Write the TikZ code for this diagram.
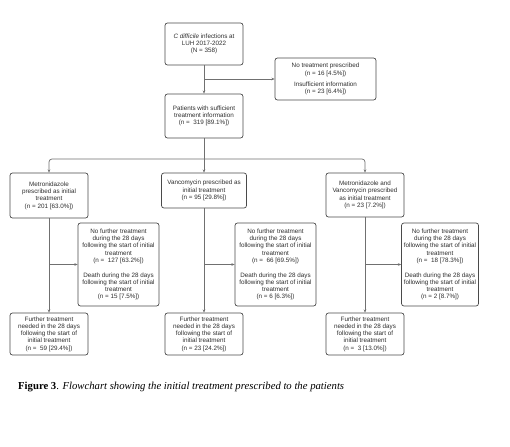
\documentclass[tikz,border=0pt]{standalone}
\usepackage{fontspec}
\setmainfont{Liberation Serif}
\newfontfamily\boxfont{Liberation Sans}
\usetikzlibrary{arrows.meta}
\definecolor{boxline}{HTML}{4A4A4A}
\definecolor{conn}{HTML}{707070}
\definecolor{boxtext}{HTML}{2E2E2E}
\tikzset{
  fbox/.style={draw=boxline, line width=0.7pt, rounded corners=2.5pt, fill=white,
    align=center, inner sep=1pt, text=boxtext,
    font=\boxfont\fontsize{6.3}{7.3}\selectfont},
  conline/.style={draw=conn, line width=0.7pt},
  arr/.style={conline, -{Stealth[length=3.2pt,width=2.6pt]}}
}
\begin{document}
\begin{tikzpicture}[x=1pt,y=-1pt]
\useasboundingbox (0,0) rectangle (510,446);
\fill[white] (0,0) rectangle (510,446);

\node[fbox, minimum width=78, minimum height=42] (top) at (204,44)
  {\textit{C difficile} infections at\\LUH 2017-2022\\(N = 358)};
\node[fbox, minimum width=101, minimum height=42] (side) at (325.5,79)
  {No treatment prescribed\\(n = 16 [4.5\%])\\[3.5pt]Insufficient information\\(n = 23 [6.4\%])};
\node[fbox, minimum width=78, minimum height=44] (pat) at (204,116)
  {Patients with sufficient\\treatment information\\(n = \ 319 [89.1\%])};

\node[fbox, minimum width=78, minimum height=45] (met) at (49,195.5)
  {Metronidazole\\prescribed as initial\\treatment\\(n = 201 [63.0\%])};
\node[fbox, minimum width=85, minimum height=35] (van) at (204,190.5)
  {Vancomycin prescribed as\\initial treatment\\(n = 95 [29.8\%])};
\node[fbox, minimum width=78, minimum height=44] (comb) at (365,195)
  {Metronidazole and\\Vancomycin prescribed\\as initial treatment\\(n = 23 [7.2\%])};

\node[fbox, minimum width=81, minimum height=83] (nf1) at (118.5,264.5)
  {No further treatment\\during the 28 days\\following the start of initial\\treatment\\(n = \ 127 [63.2\%])\\[7.3pt]Death during the 28 days\\following the start of initial\\treatment\\(n = 15 [7.5\%])};
\node[fbox, minimum width=81, minimum height=83] (nf2) at (275.5,264.5)
  {No further treatment\\during the 28 days\\following the start of initial\\treatment\\(n = \ 66 [69.5\%])\\[7.3pt]Death during the 28 days\\following the start of initial\\treatment\\(n = 6 [6.3\%])};
\node[fbox, minimum width=77, minimum height=83] (nf3) at (440,264.5)
  {No further treatment\\during the 28 days\\following the start of initial\\treatment\\(n = \ 18 [78.3\%])\\[7.3pt]Death during the 28 days\\following the start of initial\\treatment\\(n = 2 [8.7\%])};

\node[fbox, minimum width=78, minimum height=42] (fb1) at (49,334)
  {Further treatment\\needed in the 28 days\\following the start of\\initial treatment\\(n = \ 59 [29.4\%])};
\node[fbox, minimum width=78, minimum height=42] (fb2) at (204,334)
  {Further treatment\\needed in the 28 days\\following the start of\\initial treatment\\(n = 23 [24.2\%])};
\node[fbox, minimum width=78, minimum height=42] (fb3) at (365,334)
  {Further treatment\\needed in the 28 days\\following the start of\\initial treatment\\(n = \ 3 [13.0\%])};

% connectors
\draw[arr] (top.south) -- (pat.north);
\draw[arr] (top.south |- side.west) -- (side.west);
\coordinate (bus) at (204,159);
\draw[conline] (pat.south) -- (bus);
\draw[arr] (bus) -- (van.north);
\draw[arr, rounded corners=3pt] (bus) -| (met.north);
\draw[arr, rounded corners=3pt] (bus) -| (comb.north);

\draw[arr] (met.south) -- (fb1.north);
\draw[arr] (van.south) -- (fb2.north);
\draw[arr] (comb.south) -- (fb3.north);

\draw[arr] (met.south |- nf1.west) -- (nf1.west);
\draw[arr] (van.south |- nf2.west) -- (nf2.west);
\draw[arr] (comb.south |- nf3.west) -- (nf3.west);

\node[anchor=base west, inner sep=0pt, font=\fontsize{10.7}{12.8}\selectfont, text=black] (cap) at (18,389)
  {\textbf{Figure 3}. \textit{Flowchart showing the initial treatment prescribed to the patients}};
\end{tikzpicture}
\end{document}
